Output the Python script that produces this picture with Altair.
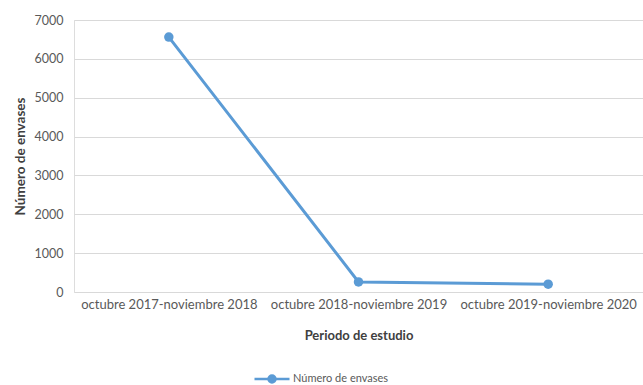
import altair as alt
import pandas as pd

periodos = ["octubre 2017-noviembre 2018", "octubre 2018-noviembre 2019", "octubre 2019-noviembre 2020"]
envases = [6560, 260, 200]
serie = ["Número de envases"] * 3

df = pd.DataFrame({"periodo": periodos, "envases": envases, "serie": serie})

blue = "#5B9BD5"
font = "Lato"

legend_path = "M-1,0H1M-0.2,0A0.2,0.2 0 1,0 0.2,0A0.2,0.2 0 1,0 -0.2,0Z"

chart = alt.Chart(df).mark_line(
    strokeWidth=3,
    point=alt.OverlayMarkDef(size=90, filled=True, opacity=1),
).encode(
    x=alt.X("periodo:N", sort=periodos,
            scale=alt.Scale(type="point", padding=0.5),
            axis=alt.Axis(title="Periodo de estudio", labelAngle=0, ticks=False, domain=False,
                          grid=False, labelFontSize=13, labelColor="#595959", labelFont=font,
                          labelPadding=6, titleFont=font, titleFontSize=13, titleFontWeight="bold",
                          titleColor="#404040", titleY=43, titleBaseline="middle")),
    y=alt.Y("envases:Q", scale=alt.Scale(domain=[0, 7000]),
            axis=alt.Axis(title="Número de envases", values=[0, 1000, 2000, 3000, 4000, 5000, 6000, 7000],
                          format="d",
                          ticks=False, domain=False, gridColor="#d9d9d9", gridWidth=1,
                          labelFontSize=12.5, labelColor="#595959", labelFont=font, labelPadding=11,
                          titleFont=font, titleFontSize=13.5, titleFontWeight="bold", titleColor="#404040",
                          titleX=-54, titleY=136, titleAlign="center", titleBaseline="middle", titleAngle=270)),
    color=alt.Color("serie:N", scale=alt.Scale(range=[blue]),
                    legend=alt.Legend(title=None, orient="none", legendX=179, legendY=340,
                                      symbolType=legend_path, symbolSize=1225, symbolStrokeWidth=2.5,
                                      symbolFillColor=blue, symbolStrokeColor=blue,
                                      labelFont=font, labelFontSize=11, labelColor="#595959",
                                      labelOffset=2)),
).properties(
    width=569, height=272,
    autosize=alt.AutoSizeParams(type="none"),
    padding={"left": 74, "top": 20, "right": 0, "bottom": 93},
).configure_view(stroke=None).configure(background="white")

chart.save("out.html", embed_options={"renderer": "svg", "actions": False})
